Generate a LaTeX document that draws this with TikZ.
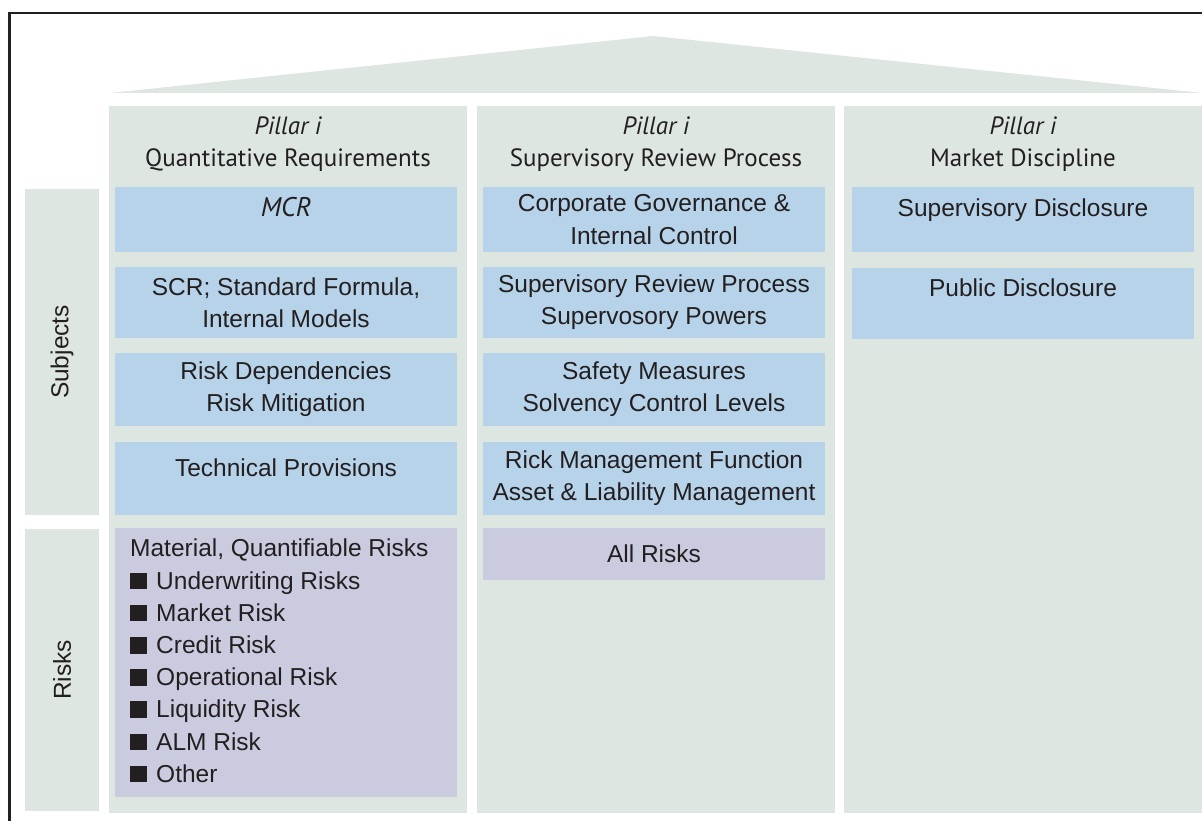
\documentclass[tikz,border=0pt]{standalone}
\usepackage{fontspec}
\setmainfont{Liberation Sans}
\newfontfamily\hdrfont{PT Sans}
\definecolor{pillar}{HTML}{DDE6E1}
\definecolor{subj}{HTML}{B7D3EA}
\definecolor{riskc}{HTML}{CACBDF}
\definecolor{ink}{HTML}{231F20}
\newcommand\bxfont{\fontsize{24.5}{32.2}\selectfont}
\newcommand\hdfont{\hdrfont\fontsize{25}{32}\selectfont}
\newcommand\sqb{\textcolor{ink}{\rule{17pt}{16.5pt}}\hspace{9pt}}
\tikzset{
  pillarbox/.style={fill=pillar, draw=none, inner sep=0pt, minimum width=358, minimum height=707},
  sidebox/.style={fill=pillar, draw=none, inner sep=0pt, rotate=90, minimum height=74, font=\bxfont, text=ink},
  subjbox/.style={fill=subj, draw=none, inner sep=0pt, minimum width=342, align=center, font=\bxfont, text=ink},
  riskbox/.style={fill=riskc, draw=none, inner sep=0pt, minimum width=342, align=center, font=\bxfont, text=ink},
  topline/.style={text height=18pt, text depth=#1},
  topline/.default=23pt,
  hdr/.style={anchor=base, inner sep=0pt, font=\hdfont, text=ink},
  listtext/.style={anchor=north west, inner sep=0pt, align=left, font=\bxfont, text=ink},
  frameline/.style={draw=ink, line width=2.4pt}
}
\begin{document}
\begin{tikzpicture}[x=1pt,y=-1pt]
\useasboundingbox (0,0) rectangle (1202,821);
% frame
\draw[frameline] (9.5,821) -- (9.5,13) -- (1202,13);
% roof
\fill[pillar] (110,93) -- (653,36) -- (1202,93) -- cycle;
% pillars
\node[pillarbox] (p1) at (288,459.5) {};
\node[pillarbox] (p2) at (656,459.5) {};
\node[pillarbox] (p3) at (1023,459.5) {};
% side labels
\node[sidebox, minimum width=326] (subjects) at (62,352) {Subjects};
\node[sidebox, minimum width=282] (risks) at (62,670) {Risks};
% headers
\node[hdr] (h1a) at (288,135) {\itshape Pillar i};
\node[hdr] (h1b) at (288,167) {Quantitative Requirements};
\node[hdr] (h2a) at (656,135) {\itshape Pillar i};
\node[hdr] (h2b) at (656,167) {Supervisory Review Process};
\node[hdr] (h3a) at (1023,135) {\itshape Pillar i};
\node[hdr] (h3b) at (1023,167) {Market Discipline};
% column 1
\node[subjbox, topline, minimum height=65] (mcr) at (286,219.5) {\hdrfont\fontsize{27}{32}\selectfont\itshape MCR};
\node[subjbox, minimum height=71] (scr) at (286,302.5) {SCR; Standard Formula,\\Internal Models};
\node[subjbox, minimum height=73] (dep) at (286,389.5) {Risk Dependencies\\Risk Mitigation};
\node[subjbox, topline, minimum height=73] (tech) at (286,478.5) {Technical Provisions};
\node[riskbox, minimum height=269] (mat) at (286,662.5) {};
\node[listtext] (matlist) at (130,539) {Material, Quantifiable Risks\\
\sqb Underwriting Risks\\
\sqb Market Risk\\
\sqb Credit Risk\\
\sqb Operational Risk\\
\sqb Liquidity Risk\\
\sqb ALM Risk\\
\sqb Other};
% column 2
\node[subjbox, minimum height=65] (cg) at (654,219.5) {Corporate Governance \&\\Internal Control};
\node[subjbox, minimum height=71] (srp) at (654,302.5) {Supervisory Review Process\\Supervosory Powers};
\node[subjbox, minimum height=73] (safe) at (654,389.5) {Safety Measures\\Solvency Control Levels};
\node[subjbox, minimum height=73] (rick) at (654,478.5) {Rick Management Function\\Asset \& Liability Management};
\node[riskbox, minimum height=52] (allrisks) at (654,554) {All Risks};
% column 3
\node[subjbox, topline, minimum height=65] (supd) at (1023,219.5) {Supervisory Disclosure};
\node[subjbox, topline=33pt, minimum height=71] (pubd) at (1023,303.5) {Public Disclosure};
\end{tikzpicture}
\end{document}
